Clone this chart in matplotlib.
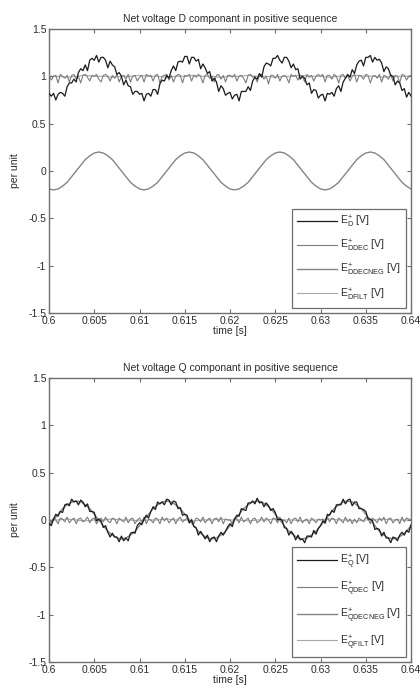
import numpy as np
import matplotlib
matplotlib.use("Agg")
import matplotlib.pyplot as plt

plt.rcParams['font.family'] = ['Liberation Sans', 'DejaVu Sans']
plt.rcParams['mathtext.fontset'] = 'custom'
plt.rcParams['mathtext.rm'] = 'Liberation Sans'
plt.rcParams['mathtext.it'] = 'Liberation Sans'
plt.rcParams['mathtext.bf'] = 'Liberation Sans:bold'

# ---------------- data ----------------
t_start, t_end = 0.6, 0.64
x_ticks = [0.6, 0.605, 0.61, 0.615, 0.62, 0.625, 0.63, 0.635, 0.64]
x_ticklabels = ['0.6', '0.605', '0.61', '0.615', '0.62', '0.625', '0.63', '0.635', '0.64']
y_ticks = [-1.5, -1, -0.5, 0, 0.5, 1, 1.5]
y_ticklabels = ['-1.5', '-1', '-0.5', '0', '0.5', '1', '1.5']

# sample grids (time axis, s)
t_fine = np.linspace(t_start, t_end, 161)    # 0.25 ms step
t_mid = np.linspace(t_start, t_end, 81)      # 0.5 ms step
t_coarse = np.linspace(t_start, t_end, 41)   # 1 ms step

E_D = [0.82, 0.79, 0.82, 0.75, 0.81, 0.83, 0.82, 0.79, 0.89, 0.93, 0.93, 0.97, 0.94, 1.04, 1.08, 1.06, 1.12, 1.06, 1.17, 1.19,
       1.17, 1.22, 1.15, 1.20, 1.20, 1.17, 1.09, 1.16, 1.12, 1.10, 1.02, 1.04, 1.00, 0.91, 0.96, 0.90, 0.89, 0.81, 0.84, 0.84,
       0.81, 0.82, 0.74, 0.81, 0.82, 0.79, 0.86, 0.86, 0.81, 0.92, 0.96, 0.95, 1.01, 0.98, 1.06, 1.11, 1.06, 1.15, 1.16, 1.15,
       1.21, 1.21, 1.13, 1.20, 1.20, 1.16, 1.18, 1.08, 1.13, 1.09, 1.03, 1.05, 0.95, 0.98, 0.94, 0.84, 0.90, 0.87, 0.80, 0.82,
       0.83, 0.76, 0.80, 0.81, 0.74, 0.84, 0.84, 0.84, 0.89, 0.85, 0.95, 0.99, 0.97, 1.03, 0.99, 1.10, 1.14, 1.13, 1.11, 1.19,
       1.19, 1.22, 1.17, 1.14, 1.20, 1.20, 1.16, 1.09, 1.13, 1.07, 1.08, 0.97, 1.00, 0.98, 0.91, 0.93, 0.82, 0.86, 0.85, 0.77,
       0.80, 0.81, 0.74, 0.82, 0.81, 0.83, 0.79, 0.87, 0.90, 0.84, 0.94, 0.98, 1.02, 0.99, 1.07, 1.03, 1.12, 1.16, 1.17, 1.11,
       1.20, 1.20, 1.22, 1.15, 1.20, 1.17, 1.18, 1.14, 1.05, 1.10, 1.08, 1.01, 1.00, 0.91, 0.95, 0.93, 0.85, 0.87, 0.78, 0.83,
       0.79]

E_DDEC = [1.02, 0.96, 1.00, 1.01, 0.93, 1.02, 1.00, 0.98, 1.01, 0.94, 1.01, 1.02, 0.97, 1.00, 0.93, 1.01, 1.02, 0.99, 0.95, 1.01,
          1.00, 1.02, 0.97, 0.94, 1.01, 1.02, 1.00, 0.95, 1.01, 0.98, 1.02, 0.94, 1.00, 1.01, 0.97, 1.02, 0.94, 1.00, 1.01, 0.95,
          0.99, 1.01, 0.94, 1.02, 1.00, 1.01, 0.95, 1.01, 1.02, 0.93, 1.00, 1.01, 1.02, 0.96, 1.01, 0.94, 1.00, 1.02, 1.01, 0.93,
          1.01, 1.00, 1.02, 0.95, 1.01, 0.99, 1.02, 1.00, 0.93, 1.01, 1.02, 0.98, 1.00, 0.94, 1.01, 1.02, 0.97, 1.01, 0.94, 1.01,
          1.01, 0.99, 1.02, 0.95, 1.00, 1.01, 0.98, 0.93, 1.01, 1.02, 0.99, 1.00, 0.94, 1.01, 1.02, 0.97, 1.00, 0.92, 1.01, 1.01,
          0.98, 1.02, 0.95, 1.00, 1.01, 0.99, 0.93, 1.02, 1.00, 1.01, 0.96, 1.01, 1.00, 0.94, 1.02, 0.99, 1.01, 0.95, 1.00, 1.02,
          1.00, 1.02, 0.94, 1.01, 1.01, 0.97, 1.02, 1.00, 0.93, 1.01, 1.02, 0.98, 1.01, 0.95, 1.00, 1.02, 0.94, 1.01, 1.00, 0.97,
          1.02, 1.01, 0.93, 1.00, 1.01, 0.98, 1.02, 0.94, 1.01, 1.00, 0.97, 1.02, 0.95, 1.01, 1.00, 0.93, 1.02, 1.01, 0.96, 1.00,
          1.01]

E_DDECNEG = [-0.19,
             -0.20, -0.19, -0.16, -0.12, -0.06, 0.00, 0.06, 0.12, 0.16, 0.19, 0.20, 0.19, 0.16, 0.12, 0.06, 0.00, -0.06, -0.12, -0.16, -0.19,
             -0.20, -0.19, -0.16, -0.12, -0.06, 0.00, 0.06, 0.12, 0.16, 0.19, 0.20, 0.19, 0.16, 0.12, 0.06, 0.00, -0.06, -0.12, -0.16, -0.19,
             -0.20, -0.19, -0.16, -0.12, -0.06, 0.00, 0.06, 0.12, 0.16, 0.19, 0.20, 0.19, 0.16, 0.12, 0.06, 0.00, -0.06, -0.12, -0.16, -0.19,
             -0.20, -0.19, -0.16, -0.12, -0.06, 0.00, 0.06, 0.12, 0.16, 0.19, 0.20, 0.19, 0.16, 0.12, 0.06, 0.00, -0.06, -0.12, -0.16, -0.19]

E_DFILT = [1.00, 1.00, 0.99, 1.00, 1.01, 1.00, 1.00, 0.99, 1.00, 1.00, 1.01, 1.00, 1.00, 0.99, 1.00, 1.00, 1.01, 1.00, 1.00, 0.99,
           1.00, 1.00, 1.01, 1.00, 1.00, 0.99, 1.00, 1.00, 1.01, 1.00, 1.00, 0.99, 1.00, 1.00, 1.01, 1.00, 1.00, 0.99, 1.00, 1.00,
           1.00]

E_Q = [-0.04, -0.06, 0.01, 0.06, 0.04, 0.09, 0.08, 0.16, 0.17, 0.15, 0.22, 0.19, 0.20, 0.16, 0.21, 0.19, 0.14, 0.17, 0.09, 0.09,
       0.08, -0.01, 0.01, -0.01, -0.08, -0.06, -0.13, -0.18, -0.14, -0.18, -0.18, -0.23, -0.17, -0.22, -0.19, -0.22, -0.14, -0.13, -0.14, -0.06,
       -0.03, -0.05, 0.01, 0.05, 0.02, 0.09, 0.14, 0.11, 0.19, 0.17, 0.19, 0.16, 0.22, 0.21, 0.16, 0.20, 0.19, 0.12, 0.13, 0.05,
       0.06, 0.05, -0.03, 0.00, -0.07, -0.08, -0.16, -0.12, -0.16, -0.20, -0.16, -0.23, -0.19, -0.18, -0.23, -0.17, -0.13, -0.16, -0.12, -0.07,
       -0.04, -0.07, 0.01, 0.05, 0.04, 0.12, 0.11, 0.10, 0.18, 0.18, 0.20, 0.17, 0.23, 0.18, 0.19, 0.14, 0.18, 0.15, 0.10, 0.12,
       0.08, 0.00, 0.01, 0.00, -0.08, -0.09, -0.16, -0.12, -0.15, -0.21, -0.16, -0.21, -0.20, -0.24, -0.17, -0.17, -0.18, -0.11, -0.15, -0.09,
       -0.06, -0.01, -0.03, 0.06, 0.05, 0.10, 0.08, 0.16, 0.16, 0.16, 0.22, 0.17, 0.21, 0.22, 0.15, 0.19, 0.19, 0.12, 0.12, 0.11,
       0.09, 0.01, 0.01, -0.01, -0.10, -0.09, -0.10, -0.17, -0.13, -0.19, -0.19, -0.24, -0.18, -0.19, -0.22, -0.16, -0.13, -0.16, -0.11, -0.13,
       -0.05]

E_QDEC = [0.01, -0.03, 0.02, 0.00, -0.04, 0.02, 0.01, -0.02, 0.03, -0.03, 0.00, 0.02, -0.04, 0.01, 0.02, -0.02, 0.00, 0.03, -0.03, 0.01,
          0.02, -0.04, 0.00, 0.02, -0.02, 0.03, -0.01, -0.03, 0.02, 0.01, -0.04, 0.02, 0.00, -0.02, 0.03, -0.03, 0.01, 0.02, -0.04, 0.00,
          0.02, -0.02, 0.03, -0.04, 0.01, 0.00, -0.03, 0.02, 0.01, -0.04, 0.03, -0.01, 0.02, -0.03, 0.00, 0.02, -0.04, 0.01, 0.03, -0.02,
          0.00, 0.02, -0.03, 0.01, -0.04, 0.02, 0.01, -0.02, 0.03, -0.03, 0.00, 0.02, -0.04, 0.01, 0.02, -0.02, 0.03, -0.04, 0.01, 0.00,
          0.00, -0.04, 0.02, 0.01, -0.03, 0.03, -0.02, 0.00, 0.02, -0.04, 0.01, 0.02, -0.03, -0.01, 0.03, -0.02, 0.02, 0.00, -0.04, 0.02,
          0.01, -0.03, 0.03, -0.02, 0.00, -0.03, 0.02, -0.04, 0.01, 0.02, -0.02, 0.03, -0.03, 0.00, 0.01, -0.04, 0.02, 0.00, -0.03, 0.01,
          0.00, 0.01, -0.04, 0.03, -0.02, 0.02, 0.01, -0.04, 0.02, 0.00, -0.03, 0.03, -0.02, 0.01, -0.04, 0.01, -0.03, 0.02, 0.00, -0.02,
          0.03, 0.01, -0.04, 0.02, 0.00, -0.03, 0.02, -0.01, 0.03, -0.04, 0.01, 0.02, -0.03, 0.00, 0.01, -0.04, 0.03, -0.02, 0.02, 0.01,
          0.00]

E_QDECNEG = [-0.06, 0.00, 0.06, 0.12, 0.16, 0.19, 0.20, 0.19, 0.16, 0.12, 0.06, 0.00, -0.06, -0.12, -0.16, -0.19, -0.20, -0.19, -0.16, -0.12,
             -0.06, 0.00, 0.06, 0.12, 0.16, 0.19, 0.20, 0.19, 0.16, 0.12, 0.06, 0.00, -0.06, -0.12, -0.16, -0.19, -0.20, -0.19, -0.16, -0.12,
             -0.06, 0.00, 0.06, 0.12, 0.16, 0.19, 0.20, 0.19, 0.16, 0.12, 0.06, 0.00, -0.06, -0.12, -0.16, -0.19, -0.20, -0.19, -0.16, -0.12,
             -0.06, 0.00, 0.06, 0.12, 0.16, 0.19, 0.20, 0.19, 0.16, 0.12, 0.06, 0.00, -0.06, -0.12, -0.16, -0.19, -0.20, -0.19, -0.16, -0.12,
             -0.06]

E_QFILT = [0.00, 0.00, 0.01, 0.00, -0.01, 0.00, 0.00, 0.01, 0.00, 0.00, -0.01, 0.00, 0.00, 0.01, 0.00, 0.00, -0.01, 0.00, 0.00, 0.01,
           0.00, 0.00, -0.01, 0.00, 0.00, 0.01, 0.00, 0.00, -0.01, 0.00, 0.00, 0.01, 0.00, 0.00, -0.01, 0.00, 0.00, 0.01, 0.00, 0.00,
           0.00]

labels_D = [r'$\mathrm{E}^{+}_{\mathrm{D}}$ [V]', r'$\mathrm{E}^{+}_{\mathrm{DDEC}}$ [V]',
            r'$\mathrm{E}^{+}_{\mathrm{DDECNEG}}$ [V]', r'$\mathrm{E}^{+}_{\mathrm{DFILT}}$ [V]']
labels_Q = [r'$\mathrm{E}^{+}_{\mathrm{Q}}$ [V]', r'$\mathrm{E}^{+}_{\mathrm{QDEC}}$ [V]',
            r'$\mathrm{E}^{+}_{\mathrm{QDECNEG}}$ [V]', r'$\mathrm{E}^{+}_{\mathrm{QFILT}}$ [V]']
titles = ['Net voltage D componant in positive sequence', 'Net voltage Q componant in positive sequence']

# ---------------- drawing ----------------
c_main = '#1a1a1a'
c_dec = '#7d7d7d'
c_neg = '#858585'
c_filt = '#a8a8a8'
c_axis = '#6e6e6e'
c_text = '#2b2b2b'

fig = plt.figure(figsize=(4.2, 6.98), dpi=100)
ax1 = fig.add_axes([0.1167, 0.5516, 0.862, 0.4069])
ax2 = fig.add_axes([0.1167, 0.0516, 0.862, 0.4069])

series = [
    (ax1, [(t_fine, E_D), (t_fine, E_DDEC), (t_mid, E_DDECNEG), (t_coarse, E_DFILT)], labels_D, titles[0]),
    (ax2, [(t_fine, E_Q), (t_fine, E_QDEC), (t_mid, E_QDECNEG), (t_coarse, E_QFILT)], labels_Q, titles[1]),
]
colors = [c_main, c_dec, c_neg, c_filt]
zorders = [4, 3, 2, 1]
widths = [0.9, 0.8, 1.0, 0.8]

for ax, data, labels, title in series:
    handles = []
    for (tt, yy), col, z, lw, lab in zip(data, colors, zorders, widths, labels):
        h, = ax.plot(tt, yy, color=col, lw=lw, zorder=z, label=lab)
        handles.append(h)
    ax.set_xlim(t_start, t_end)
    ax.set_ylim(-1.5, 1.5)
    ax.set_xticks(x_ticks)
    ax.set_xticklabels(x_ticklabels)
    ax.set_yticks(y_ticks)
    ax.set_yticklabels(y_ticklabels)
    ax.tick_params(direction='in', top=True, right=True, length=3, width=0.8,
                   colors=c_axis, labelcolor=c_text, labelsize=7.5, pad=2)
    for s in ax.spines.values():
        s.set_color(c_axis)
        s.set_linewidth(1.0)
    ax.set_title(title, fontsize=7.5, color=c_text, pad=5)
    ax.set_xlabel('time [s]', fontsize=7.5, color=c_text, labelpad=0)
    ax.set_ylabel('per unit', fontsize=7.5, color=c_text, labelpad=6)
    leg = ax.legend(handles=handles, loc='lower right', fontsize=7.5, frameon=True,
                    fancybox=False, edgecolor=c_axis, framealpha=1, borderpad=0.5,
                    labelspacing=0.75, handlelength=3.8, handletextpad=0.3,
                    borderaxespad=0.5)
    leg.get_frame().set_linewidth(0.9)
    for txt in leg.get_texts():
        txt.set_color(c_text)

fig.savefig('out.png', dpi=100, facecolor='white')
